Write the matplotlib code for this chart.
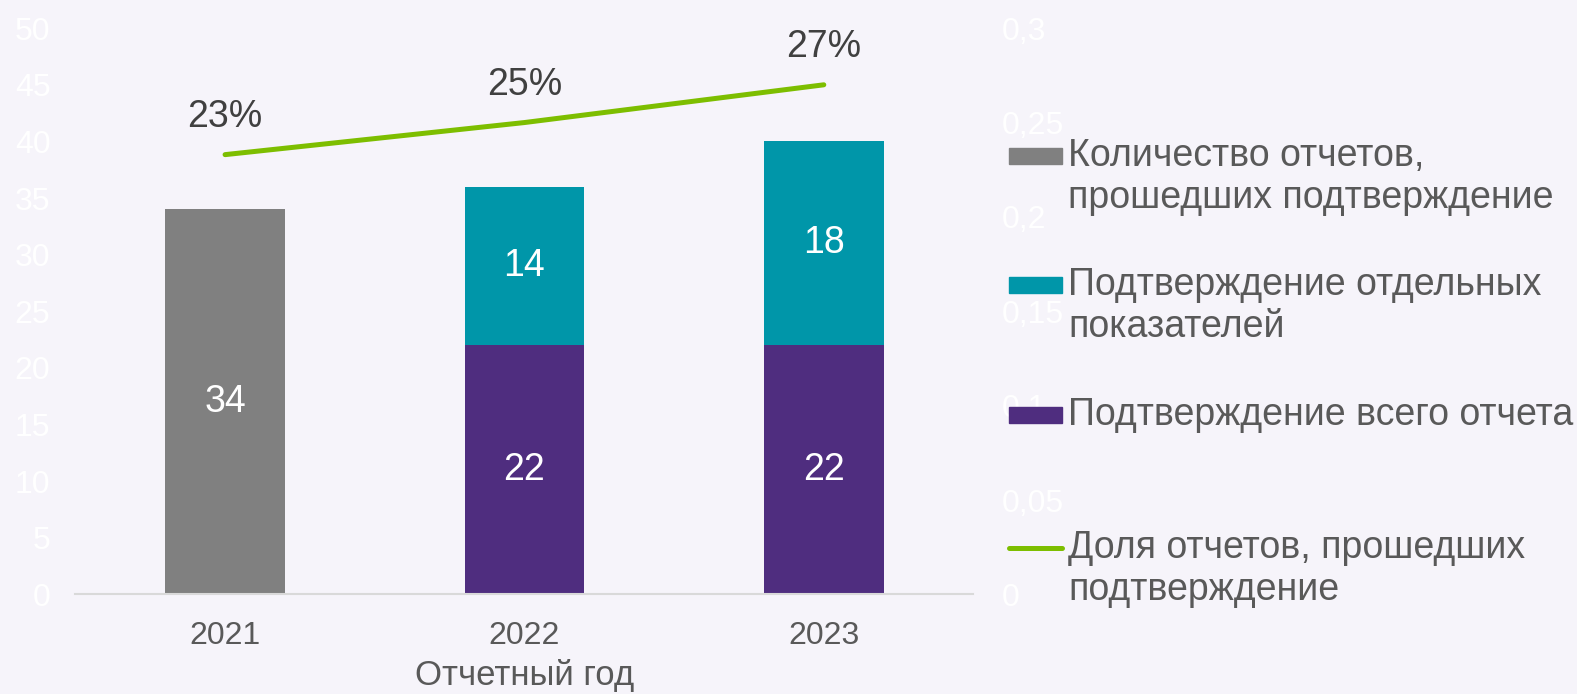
import matplotlib.pyplot as plt
import numpy as np
from matplotlib.patches import Rectangle
from matplotlib.lines import Line2D
from matplotlib.ticker import FuncFormatter

plt.rcParams['font.family'] = ['Liberation Sans', 'DejaVu Sans']

years = ['2021', '2022', '2023']
total_reports = [34, 0, 0]          # gray bar (only 2021)
full_confirm = [0, 22, 22]          # purple
partial_confirm = [0, 14, 18]       # teal
share = [0.233, 0.25, 0.27]         # green line, right axis
share_labels = ['23%', '25%', '27%']

legend_names = ['Количество отчетов,\nпрошедших подтверждение',
                'Подтверждение отдельных\nпоказателей',
                'Подтверждение всего отчета',
                'Доля отчетов, прошедших\nподтверждение']

BG = '#F6F4FA'
GRAY = '#808080'
TEAL = '#0096A9'
PURPLE = '#4F2D7F'
GREEN = '#7DBE00'
TXT = '#595959'

fig = plt.figure(figsize=(15.77, 6.94), dpi=100, facecolor=BG)
ax = fig.add_axes([0.0478, 0.1435, 0.5695, 0.8159], facecolor=BG)
ax2 = ax.twinx()

x = np.arange(len(years))
w = 0.40
b0 = ax.bar(x, total_reports, w, color=GRAY)
b1 = ax.bar(x, full_confirm, w, color=PURPLE)
b2 = ax.bar(x, partial_confirm, w, bottom=full_confirm, color=TEAL)

for bars, vals in [(b0, total_reports), (b1, full_confirm), (b2, partial_confirm)]:
    for r, v in zip(bars, vals):
        if v:
            ax.text(r.get_x() + r.get_width() / 2, r.get_y() + r.get_height() / 2,
                    str(v), ha='center', va='center', color='white', fontsize=27)

ax2.plot(x, share, color=GREEN, lw=3.6, solid_capstyle='round')
for xi, s, lab in zip(x, share, share_labels):
    ax2.annotate(lab, (xi, s), xytext=(0, 27), textcoords='offset points',
                 ha='center', va='center', fontsize=27, color='#404040')

ax.set_xlim(-0.5, 2.5)
ax.set_ylim(0, 50)
ax2.set_ylim(0, 0.3)
ax.set_yticks(np.arange(0, 51, 5))
ax2.set_yticks(np.arange(0, 0.31, 0.05))
ax2.yaxis.set_major_formatter(FuncFormatter(lambda v, p: f'{v:.2f}'.rstrip('0').rstrip('.').replace('.', ',')))

ax.set_xticks(x)
ax.set_xticklabels(years)
ax.tick_params(axis='x', length=0, pad=19, labelsize=23, labelcolor=TXT)
ax.tick_params(axis='y', length=0, pad=18, labelsize=23, labelcolor='white')
ax2.tick_params(axis='y', length=0, pad=20, labelsize=23, labelcolor='white')
ax.set_xlabel('Отчетный год', fontsize=25, color=TXT, labelpad=6)

for a in (ax, ax2):
    for s in a.spines.values():
        s.set_visible(False)
ax.spines['bottom'].set_visible(True)
ax.spines['bottom'].set_color('#D9D9D9')
ax.spines['bottom'].set_linewidth(1.5)

# legend, drawn by hand so the marker sits on the first line
H = 694.0
colors = [GRAY, TEAL, PURPLE, GREEN]
rows_y = [156, 285, 415, 548]
for name, c, yy in zip(legend_names, colors, rows_y):
    fy = 1 - yy / H
    if c == GREEN:
        fig.add_artist(Line2D([1009 / 1577, 1062 / 1577], [fy, fy], color=c, lw=3.6,
                              solid_capstyle='round', transform=fig.transFigure))
    else:
        fig.add_artist(Rectangle((1009 / 1577, fy - 8 / H), 53 / 1577, 16 / H,
                                 color=c, transform=fig.transFigure))
    fig.text(1068 / 1577, fy + 18 / H, name, ha='left', va='top', fontsize=27,
             color=TXT, linespacing=1.22)

fig.savefig('out.png', dpi=100, facecolor=BG)
